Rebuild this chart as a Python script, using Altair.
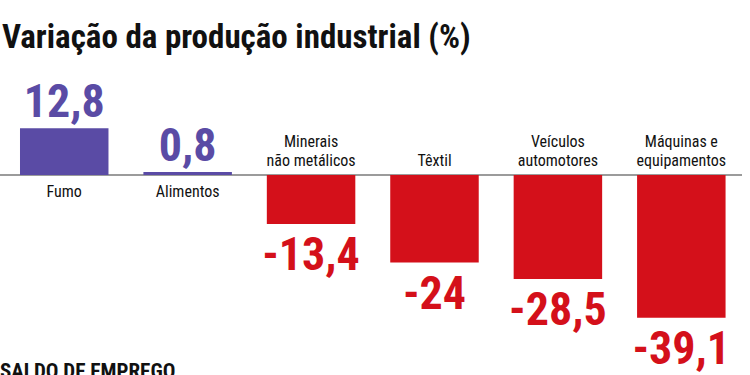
import altair as alt
import pandas as pd

categories = ["Fumo", "Alimentos", "Minerais\nnão metálicos", "Têxtil",
              "Veículos\nautomotores", "Máquinas e\nequipamentos"]
values = [12.8, 0.8, -13.4, -24.0, -28.5, -39.1]
value_labels = ["12,8", "0,8", "-13,4", "-24", "-28,5", "-39,1"]
title_text = "Variação da produção industrial (%)"
next_section = "SALDO DE EMPREGO"

PURPLE = "#5a4ba5"
RED = "#d4101a"
INK = "#111111"
FONT = "Roboto Condensed"

df = pd.DataFrame({"cat": categories, "val": values, "lab": value_labels})
df["sign"] = ["pos" if v >= 0 else "neg" for v in values]

ydom = [-54.79, 47.95]
x = alt.X("cat:N", sort=categories, axis=None,
          scale=alt.Scale(paddingInner=0.283, paddingOuter=0.18, align=0.45))
y = alt.Y("val:Q", axis=None, scale=alt.Scale(domain=ydom, nice=False, zero=False))
yzero = alt.Y("zero:Q", axis=None, scale=alt.Scale(domain=ydom, nice=False, zero=False))
color = alt.Color("sign:N", legend=None,
                  scale=alt.Scale(domain=["pos", "neg"], range=[PURPLE, RED]))

base = alt.Chart(df).transform_calculate(zero="0")
multi = "indexof(datum.cat, '\\n') >= 0"

rule = base.mark_rule(color="#9a9a9a", strokeWidth=1.2).encode(
    y=yzero, x=alt.value(0), x2=alt.value(742))

bars = base.mark_bar().encode(x=x, y=y, y2=alt.datum(0), color=color)

pos_vals = base.transform_filter("datum.val >= 0").mark_text(
    font=FONT, fontSize=46, fontWeight="bold", baseline="alphabetic", dy=-11
).encode(x=x, y=y, text="lab:N", color=color)

neg_vals = base.transform_filter("datum.val < 0").mark_text(
    font=FONT, fontSize=46, fontWeight="bold", baseline="alphabetic", dy=46
).encode(x=x, y=y, text="lab:N", color=color)

pos_cats = base.transform_filter("datum.val >= 0").mark_text(
    font=FONT, fontSize=16, baseline="alphabetic", dy=22, color=INK
).encode(x=x, y=yzero, text="cat:N")

neg_cats_single = base.transform_filter("datum.val < 0").transform_filter("!(" + multi + ")").mark_text(
    font=FONT, fontSize=16, baseline="alphabetic", dy=-9, color=INK
).encode(x=x, y=yzero, text="cat:N")

neg_cats_multi = base.transform_filter("datum.val < 0").transform_filter(multi).mark_text(
    font=FONT, fontSize=16, baseline="alphabetic", dy=-28, lineBreak="\n",
    lineHeight=19, color=INK
).encode(x=x, y=yzero, text="cat:N")

title = alt.Chart(pd.DataFrame({"t": [title_text]})).mark_text(
    font=FONT, fontSize=33, fontWeight="bold", align="left", baseline="alphabetic",
    color=INK
).encode(x=alt.value(2), y=alt.value(48), text="t:N")

footer = alt.Chart(pd.DataFrame({"t": [next_section]})).mark_text(
    font=FONT, fontSize=21, fontWeight="bold", align="left", baseline="alphabetic",
    color=INK
).encode(x=alt.value(0), y=alt.value(378), text="t:N")

chart = alt.layer(rule, bars, pos_vals, neg_vals, pos_cats, neg_cats_single,
                  neg_cats_multi, title, footer).properties(
    width=750, height=375, padding=0, autosize=alt.AutoSizeParams(type="none")
).configure_view(stroke=None)

chart.save("out.html", embed_options={"renderer": "svg", "actions": False})
